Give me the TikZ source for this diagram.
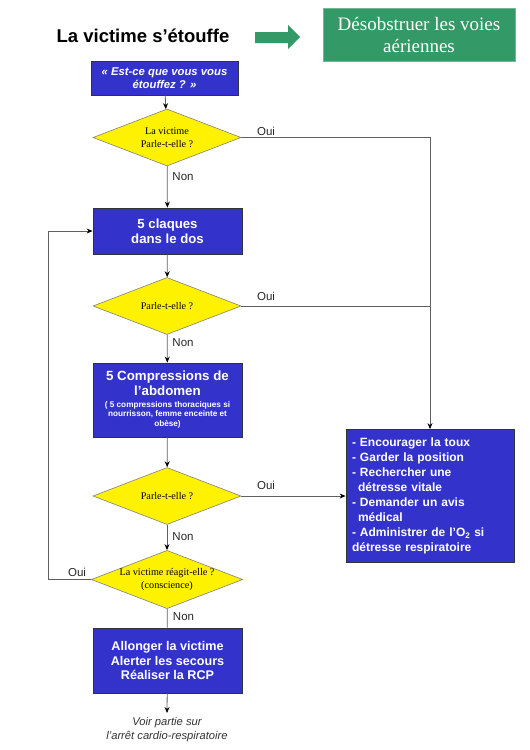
\documentclass[tikz,border=0pt]{standalone}
\usepackage{fontspec}
\setmainfont{Liberation Serif}
\setsansfont{Liberation Sans}
\usetikzlibrary{shapes.geometric,arrows.meta}
\definecolor{boxblue}{HTML}{3333CC}
\definecolor{boxgreen}{HTML}{339966}
\definecolor{lineg}{HTML}{606060}
\begin{document}
\begin{tikzpicture}[x=1pt,y=-1pt,
  bluebox/.style={draw=black!80,line width=0.8pt,fill=boxblue,text=white,font=\sffamily\bfseries,align=center,inner sep=2pt},
  decision/.style={diamond,draw=gray,line width=0.6pt,fill=yellow,inner sep=0pt,aspect=2.6,minimum width=148pt,minimum height=57pt,font=\fontsize{10.2}{12.5}\selectfont,align=center},
  conn/.style={draw=lineg,line width=0.8pt},
  arr/.style={conn,-{Stealth[length=6pt,width=5pt,black]}},
  lbl/.style={font=\sffamily\fontsize{11.5}{13}\selectfont,text=black!85,inner sep=0pt}
]
\useasboundingbox (0,0) rectangle (530,750);

\node[font=\sffamily\bfseries\fontsize{18.5}{22}\selectfont,inner sep=0pt] (title) at (143,36) {La victime s’étouffe};
\fill[boxgreen] (255,32) -- (288,32) -- (288,25) -- (300,37) -- (288,49) -- (288,43) -- (255,43) -- cycle;
\node[draw=boxgreen!70!white,fill=boxgreen,text=white,minimum width=192pt,minimum height=53pt,inner sep=0pt,align=center,font=\fontsize{19}{22}\selectfont] (green) at (419,34.5) {Désobstruer les voies\\aériennes};

\node[bluebox,minimum width=147pt,minimum height=34pt,font=\sffamily\bfseries\itshape\fontsize{11.3}{12.5}\selectfont] (b1) at (164.5,78) {« Est-ce que vous vous\\étouffez ? »};

\node[decision] (d1) at (167,137.5) {La victime\\Parle-t-elle ?};

\node[bluebox,minimum width=149pt,minimum height=46pt,font=\sffamily\bfseries\fontsize{13.2}{15}\selectfont] (b2) at (167.5,231) {5 claques\\dans le dos};

\node[decision] (d2) at (167,306) {Parle-t-elle ?};

\node[bluebox,minimum width=149pt,minimum height=74pt,font=\sffamily\bfseries\fontsize{13.3}{15}\selectfont] (b3) at (167.5,400) {5 Compressions de\\l’abdomen\\[-3pt]{\fontsize{8.2}{9.5}\selectfont\begin{tabular}[t]{@{}c@{}}( 5 compressions thoraciques si\\nourrisson, femme enceinte et\\obèse)\end{tabular}}};

\node[decision] (d3) at (167,496) {Parle-t-elle ?};

\node[decision] (d4) at (167,579.5) {La victime réagit-elle ?\\(conscience)};

\node[bluebox,minimum width=149pt,minimum height=65pt,font=\sffamily\bfseries\fontsize{12.6}{14.5}\selectfont] (b5) at (167.5,660.5) {Allonger la victime\\Alerter les secours\\Réaliser la RCP};

\node[bluebox,minimum width=168pt,minimum height=133pt,text width=156pt,align=left,inner sep=6pt,font=\sffamily\bfseries\fontsize{12}{14.9}\selectfont] (b4) at (430,496) {- Encourager la toux\\- Garder la position\\- Rechercher une\\\hspace*{6pt}détresse vitale\\- Demander un avis\\\hspace*{6pt}médical\\- Administrer de l’O\textsubscript{2} si\\détresse respiratoire};

\coordinate (footend) at (167,713);
\node[font=\sffamily\itshape\fontsize{11.2}{14}\selectfont,text=black!80,align=center,inner sep=0pt] (foot) at (167,730) {Voir partie sur\\l’arrêt cardio-respiratoire};

% connectors
\draw[arr] (b1) -- (d1);
\draw[arr] (d1.east) -| (b4.north);
\draw[arr] (d1) -- (b2);
\draw[arr] (b2) -- (d2);
\draw[conn] (d2.east) -- (d2.east -| b4.north);
\draw[arr] (d2) -- (b3);
\draw[arr] (b3) -- (d3);
\draw[arr] (d3.east) -- (b4.west);
\draw[arr] (d3) -- (d4);
\coordinate (loop) at (48,579.5);
\draw[arr] (d4.west) -- (loop) |- (b2.west);
\draw[conn] (d4) -- (b5);
\draw[arr] (b5) -- (footend);

% labels
\node[lbl] (o1) at (266,131) {Oui};
\node[lbl] (o2) at (266,296) {Oui};
\node[lbl] (o3) at (266,485) {Oui};
\node[lbl] (o4) at (77,572) {Oui};
\node[lbl] (n1) at (183,177) {Non};
\node[lbl] (n2) at (183,343) {Non};
\node[lbl] (n3) at (183,537) {Non};
\node[lbl] (n4) at (183.5,617) {Non};
\end{tikzpicture}
\end{document}
